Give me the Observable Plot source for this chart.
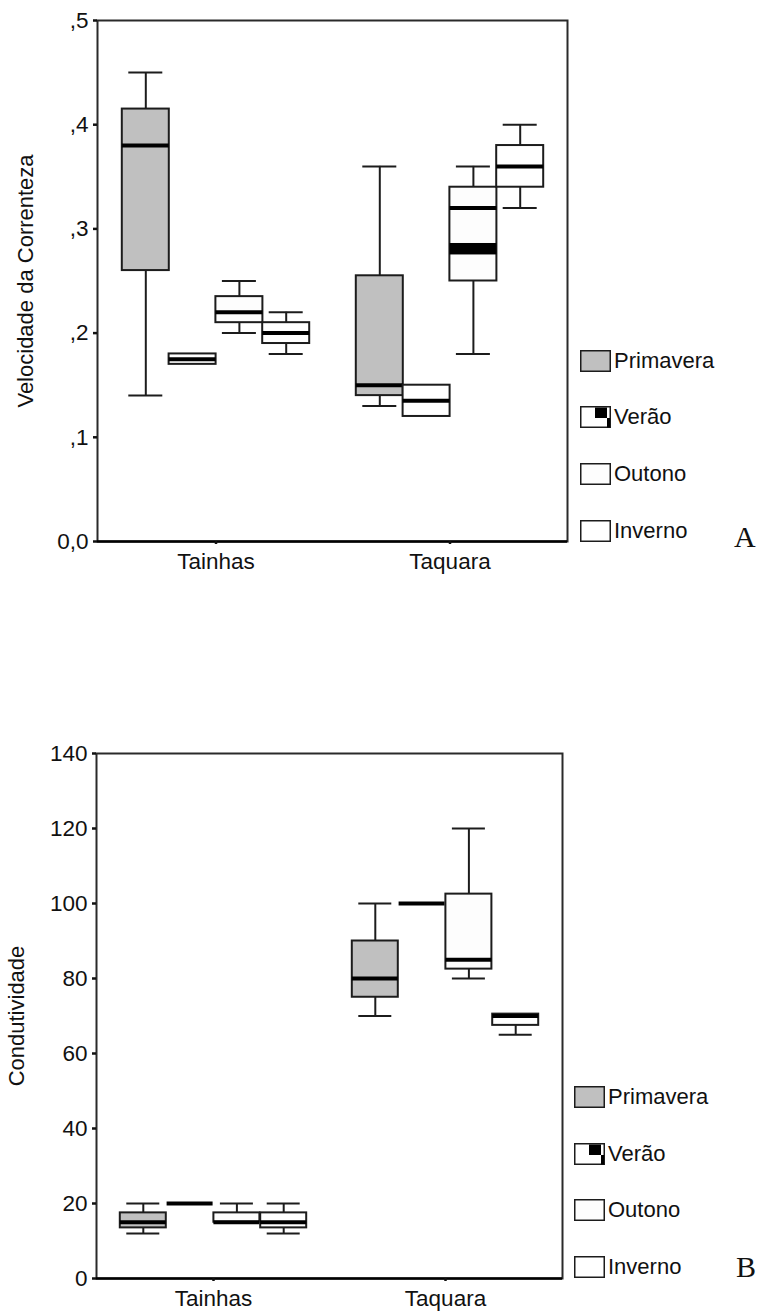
<!DOCTYPE html>
<html>
<head>
<meta charset="utf-8">
<script src="https://cdn.jsdelivr.net/npm/d3@7"></script>
<script src="https://cdn.jsdelivr.net/npm/@observablehq/plot@0.6"></script>
<style>
  html, body { margin: 0; padding: 0; background: #fff; }
  body { width: 758px; height: 1313px; overflow: hidden; position: relative;
         font-family: "Liberation Sans", Arial, sans-serif; color: #111; }
  .painel { position: absolute; left: 0; }
  .item { position: absolute; height: 22px; }
  .amostra { position: absolute; left: 0; top: 0; width: 31px; height: 22px; }
  .rotulo { position: absolute; left: 34px; top: 0; font-size: 22px; line-height: 22px; white-space: nowrap; }
  .letra { position: absolute; font-family: "Liberation Serif", "Times New Roman", serif; font-size: 30px; line-height: 30px; }
</style>
</head>
<body>
<div id="painelA" class="painel" style="top:0"></div>
<div id="painelB" class="painel" style="top:700px"></div>
<script>
// Locais de coleta e estações do ano
const locais = ["Tainhas", "Taquara"];
const estacoes = ["Primavera", "Verão", "Outono", "Inverno"];

// Velocidade da correnteza: [mínimo, 1º quartil, mediana, 3º quartil, máximo] por estação
const velTainhas = [
  [0.14, 0.26, 0.38, 0.415, 0.45],
  [0.17, 0.17, 0.175, 0.18, 0.18],
  [0.20, 0.21, 0.22, 0.235, 0.25],
  [0.18, 0.19, 0.20, 0.21, 0.22]
];
const velTaquara = [
  [0.13, 0.14, 0.15, 0.255, 0.36],
  [0.12, 0.12, 0.135, 0.15, 0.15],
  [0.18, 0.25, 0.32, 0.34, 0.36],
  [0.32, 0.34, 0.36, 0.38, 0.40]
];
// Faixa escura dentro da caixa de Taquara no outono
const velFaixa = [{local: "Taquara", estacao: "Outono", de: 0.275, ate: 0.286}];
const velTicks = [0, 0.1, 0.2, 0.3, 0.4, 0.5];
const velRotulos = ["0,0", ",1", ",2", ",3", ",4", ",5"];

// Condutividade: [mínimo, 1º quartil, mediana, 3º quartil, máximo] por estação
const condTainhas = [
  [12, 13.5, 15, 17.5, 20],
  [20, 20, 20, 20, 20],
  [15, 15, 15, 17.5, 20],
  [12, 13.5, 15, 17.5, 20]
];
const condTaquara = [
  [70, 75, 80, 90, 100],
  [100, 100, 100, 100, 100],
  [80, 82.5, 85, 102.5, 120],
  [65, 67.5, 70, 70.5, 70.5]
];
const condTicks = [0, 20, 40, 60, 80, 100, 120, 140];

const corEstacao = ["#c0c0c0", "#ffffff", "#fdfdfd", "#ffffff"];
const contorno = "#1c1c1c";
const largura = 46.8; // largura de cada caixa (igual à largura de banda do eixo x)

function tabela(porTainhas, porTaquara) {
  return locais.flatMap((local, i) => estacoes.map((estacao, j) => {
    const [min, q1, med, q3, max] = (i === 0 ? porTainhas : porTaquara)[j];
    return {local, estacao, min, q1, med, q3, max};
  }));
}

// Caixa, bigodes e mediana de uma estação, deslocada dentro do grupo do local
function caixas(dados, j) {
  const est = dados.filter(d => d.estacao === estacoes[j]);
  const dx = (j - 1.5) * largura;
  const traco = {stroke: contorno, strokeWidth: 2, dx};
  const sobe = est.filter(d => d.max > d.q3);
  const desce = est.filter(d => d.min < d.q1);
  return [
    Plot.ruleX(sobe, {x: "local", y1: "q3", y2: "max", ...traco}),
    Plot.ruleX(desce, {x: "local", y1: "min", y2: "q1", ...traco}),
    Plot.tickY(sobe, {x: "local", y: "max", insetLeft: 6.5, insetRight: 6.5, ...traco}),
    Plot.tickY(desce, {x: "local", y: "min", insetLeft: 6.5, insetRight: 6.5, ...traco}),
    Plot.barY(est, {x: "local", y1: "q1", y2: "q3", fill: corEstacao[j], ...traco}),
    Plot.tickY(est, {x: "local", y: "med", stroke: "#000", strokeWidth: 4, dx})
  ];
}

function grafico({dados, dominio, ticks, formato, titulo, margens, altura, offsetTitulo, extras = []}) {
  return Plot.plot({
    width: 758,
    height: altura,
    ...margens,
    style: {fontFamily: "'Liberation Sans', Arial, sans-serif", fontSize: "22px", color: "#111", background: "transparent", overflow: "visible"},
    x: {domain: locais, paddingInner: 0.8, paddingOuter: 0.404, align: 0.5},
    y: {domain: dominio},
    marks: [
      Plot.frame({stroke: "#2a2a2a", strokeWidth: 2}),
      ...estacoes.flatMap((_, j) => caixas(dados, j)),
      ...extras,
      Plot.ruleY([dominio[0]], {stroke: "#000", strokeWidth: 2.5}),
      Plot.axisY({ticks, tickFormat: formato, tickSize: 4, tickPadding: 5, strokeWidth: 2.5, label: null, fontSize: 22.5}),
      Plot.axisX({tickSize: 3, tickPadding: 9, strokeWidth: 2.5, label: null, fontSize: 22.5}),
      Plot.text([titulo], {text: d => d, frameAnchor: "left", rotate: -90, dx: -offsetTitulo, textAnchor: "middle", lineAnchor: "middle", fontSize: 22})
    ]
  });
}

function legenda(alvo, esquerda, topo, passo, letra, letraPos) {
  estacoes.forEach((nome, j) => {
    const item = document.createElement("div");
    item.className = "item";
    item.style.left = esquerda + "px";
    item.style.top = (topo + j * passo) + "px";
    let desenho = `<rect x="0.75" y="0.75" width="29.5" height="20.5" fill="${corEstacao[j]}" stroke="${contorno}" stroke-width="1.5"/>`;
    if (j === 1) {
      desenho += `<rect x="15" y="1.5" width="12" height="10.5" fill="#000"/><rect x="27" y="12" width="3" height="9.5" fill="#000"/>`;
    }
    item.innerHTML = `<svg class="amostra" width="31" height="22">${desenho}</svg><span class="rotulo">${nome}</span>`;
    alvo.appendChild(item);
  });
  const marca = document.createElement("div");
  marca.className = "letra";
  marca.textContent = letra;
  marca.style.left = letraPos[0] + "px";
  marca.style.top = letraPos[1] + "px";
  alvo.appendChild(marca);
}

const painelA = document.getElementById("painelA");
const painelB = document.getElementById("painelB");

const velDados = tabela(velTainhas, velTaquara);
painelA.appendChild(grafico({
  dados: velDados,
  dominio: [0, 0.5],
  ticks: velTicks,
  formato: d => velRotulos[velTicks.indexOf(d)],
  titulo: "Velocidade da Correnteza",
  margens: {marginLeft: 97, marginRight: 191, marginTop: 20, marginBottom: 40},
  altura: 581,
  offsetTitulo: 72,
  extras: [Plot.barY(velFaixa, {x: "local", y1: "de", y2: "ate", fill: "#000", dx: (estacoes.indexOf("Outono") - 1.5) * largura})]
}));
legenda(painelA, 580, 349.5, 56.9, "A", [734, 522]);

const condDados = tabela(condTainhas, condTaquara);
painelB.appendChild(grafico({
  dados: condDados,
  dominio: [0, 140],
  ticks: condTicks,
  formato: d => String(d),
  titulo: "Condutividade",
  margens: {marginLeft: 96, marginRight: 196, marginTop: 53, marginBottom: 35},
  altura: 613,
  offsetTitulo: 80
}));
legenda(painelB, 574, 386, 56.7, "B", [736, 552]);
</script>
</body>
</html>
